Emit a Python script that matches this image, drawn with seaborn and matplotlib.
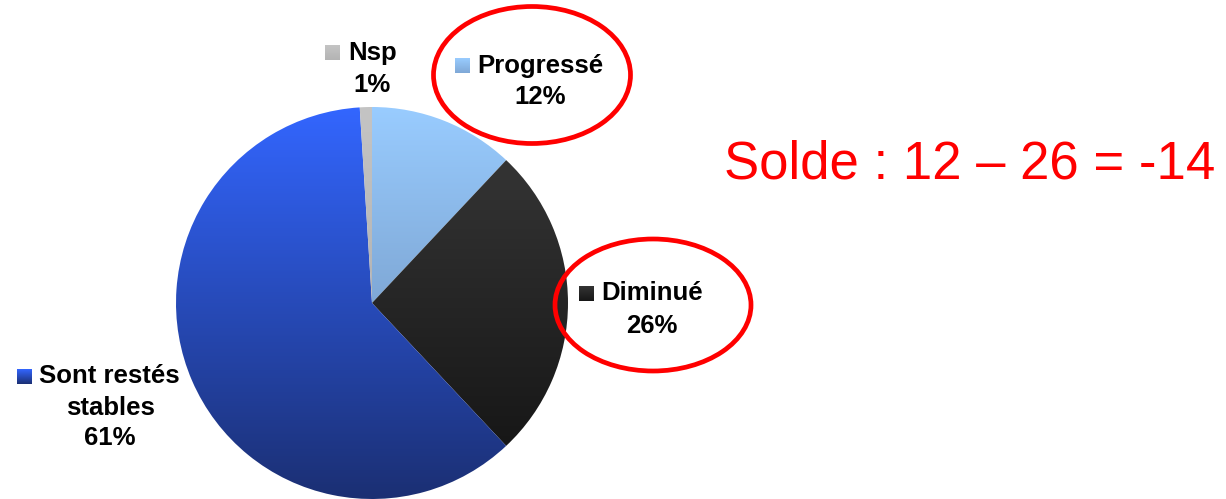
import numpy as np
import seaborn as sns
import matplotlib.pyplot as plt
from matplotlib.patches import Ellipse, Rectangle
from matplotlib.colors import LinearSegmentedColormap


# ==============================
# Data
# ==============================
labels = ["Progressé", "Diminué", "Sont restés\nstables", "Nsp"]
values = [12, 26, 61, 1]

# vertical gradient of each slice (top, bottom)
grad_colors = [
    ("#99CCFF", "#7FA8D6"),
    ("#343434", "#171717"),
    ("#3366FF", "#1B2F73"),
    ("#C4C4C4", "#B4B4B4"),
]

solde_text = "Solde : {} – {} = {}".format(values[0], values[1], values[0] - values[1])


# ==============================
# Style
# ==============================
sns.set_theme(style="white")
plt.rcParams["font.family"] = ["Liberation Sans", "DejaVu Sans"]

W, H = 1226, 499


def py(y):
    # pixel row (from top) -> data y
    return H - y


def gradient_fill(ax, patch, top, bottom):
    path = patch.get_path().transformed(patch.get_patch_transform())
    x0, y0, x1, y1 = path.get_extents().extents
    cmap = LinearSegmentedColormap.from_list("g", [bottom, top])
    grad = np.linspace(0, 1, 256).reshape(-1, 1)
    im = ax.imshow(grad, cmap=cmap, extent=(x0, x1, y0, y1), origin="lower",
                   aspect="auto", interpolation="bilinear", zorder=patch.get_zorder())
    im.set_clip_path(patch)
    patch.set_facecolor("none")
    patch.set_edgecolor("none")


fig = plt.figure(figsize=(12.26, 4.99), dpi=100)
ax = fig.add_axes([0, 0, 1, 1])

wedges, _ = ax.pie(
    values,
    center=(372, py(303)),
    radius=196,
    startangle=90,
    counterclock=False,
    colors=[c[0] for c in grad_colors],
    wedgeprops=dict(linewidth=0),
)
ax.set_xlim(0, W)
ax.set_ylim(0, H)
ax.set_aspect("equal")
ax.axis("off")

for w, (top, bottom) in zip(wedges, grad_colors):
    gradient_fill(ax, w, top, bottom)


# ==============================
# Labels
# ==============================
# (square x, square top y, name x, name baseline, pct x, pct baseline)
label_pos = [
    (455, 58, 477, 73, 540, 104),
    (579, 286, 601, 300, 652, 333),
    (17, 369, 39, 383, 110, 445),
    (325, 45, 348, 60, 372, 92),
]
sq = 15
fs = 18.5

for i, (lab, v) in enumerate(zip(labels, values)):
    sx, sy, nx, ny, cx, cy = label_pos[i]
    r = Rectangle((sx, py(sy + sq)), sq, sq, linewidth=0, zorder=3)
    ax.add_patch(r)
    gradient_fill(ax, r, *grad_colors[i])
    lines = lab.split("\n")
    ax.text(nx, py(ny), lines[0], fontsize=fs, fontweight="bold",
            ha="left", va="baseline", color="black")
    if len(lines) > 1:
        ax.text(cx, py(ny + 32), lines[1], fontsize=fs, fontweight="bold",
                ha="center", va="baseline", color="black")
    ax.text(cx, py(cy), f"{v}%", fontsize=fs, fontweight="bold",
            ha="center", va="baseline", color="black")


# ==============================
# Red highlights
# ==============================
ax.add_patch(Ellipse((532, py(75)), 197, 137, fill=False,
                     edgecolor="#FF0000", linewidth=3.4, zorder=5))
ax.add_patch(Ellipse((653, py(305)), 196, 132, fill=False,
                     edgecolor="#FF0000", linewidth=3.4, zorder=5))

ax.text(970, py(178), solde_text, fontsize=38, color="#FF0000",
        ha="center", va="baseline")

fig.savefig("out.png", dpi=100)
